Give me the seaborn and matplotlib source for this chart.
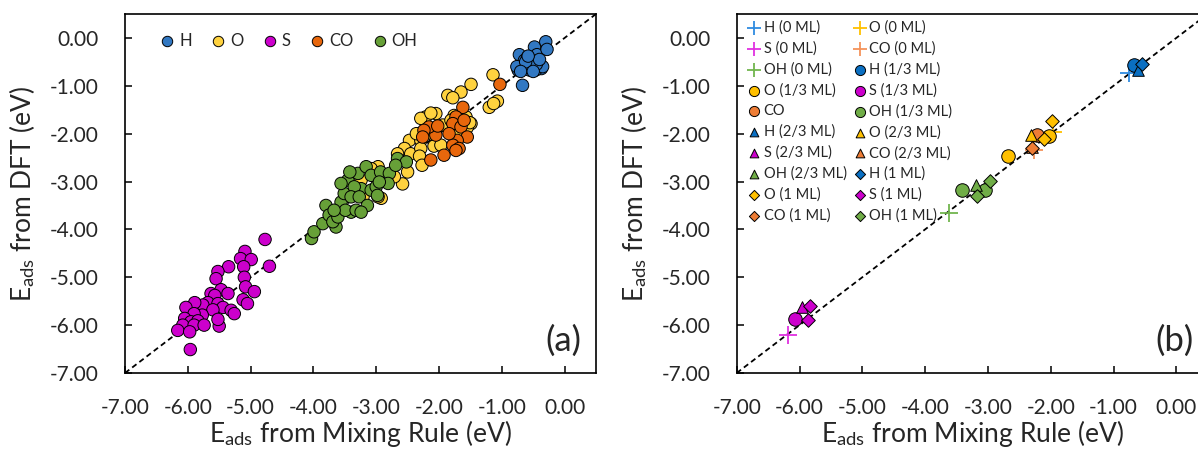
import numpy as np
import pandas as pd
import matplotlib
matplotlib.use("Agg")
import matplotlib.pyplot as plt
import seaborn as sns
from matplotlib.lines import Line2D
from matplotlib.ticker import FormatStrFormatter

# ---------------- Panel (a) data ----------------
h_x = [-0.72, -0.48, -0.44, -0.30, -0.28, -0.51, -0.62, -0.43, -0.69, -0.56, -0.37, -0.74,
       -0.67, -0.64, -0.46, -0.35, -0.76, -0.59, -0.55, -0.45, -0.62, -0.40, -0.70, -0.50, -0.58]
h_y = [-0.35, -0.19, -0.35, -0.08, -0.24, -0.48, -0.57, -0.57, -0.64, -0.67, -0.64, -0.67,
       -0.99, -0.47, -0.67, -0.60, -0.60, -0.40, -0.62, -0.55, -0.50, -0.45, -0.70, -0.70, -0.38]

o_x = [-1.14, -1.20, -1.07, -1.13, -1.49, -1.65, -1.86, -1.78, -2.21, -2.05, -2.29, -1.94,
       -1.76, -1.57, -1.49, -1.55, -2.13, -2.08, -2.47, -2.29, -2.08, -1.97, -1.73, -1.71,
       -2.55, -2.45, -2.29, -2.31, -2.27, -2.66, -2.50, -2.58, -2.71, -2.97, -2.92, -2.97,
       -3.08, -3.21, -3.24, -2.13, -1.51, -2.36, -1.81]
o_y = [-0.77, -1.45, -1.32, -1.37, -0.97, -1.13, -1.20, -1.25, -1.65, -1.58, -1.68, -1.82,
       -1.62, -1.65, -1.79, -1.87, -1.93, -2.03, -2.14, -2.14, -2.26, -2.24, -2.00, -2.03,
       -2.31, -2.42, -2.31, -2.47, -2.66, -2.42, -2.80, -3.05, -2.90, -2.69, -3.35, -3.32,
       -2.73, -3.32, -2.97, -1.57, -1.77, -2.00, -1.72]

s_x = [-4.77, -4.70, -5.09, -5.16, -4.99, -5.35, -5.52, -5.55, -5.11, -5.10, -5.08, -4.94,
       -5.12, -5.05, -5.63, -5.47, -5.36, -5.57, -5.68, -5.76, -5.89, -6.03, -5.52, -5.44,
       -5.31, -5.26, -5.60, -5.77, -5.90, -6.05, -5.95, -5.84, -6.08, -5.90, -5.74, -5.50,
       -5.52, -6.16, -5.97, -5.96]
s_y = [-4.21, -4.77, -4.46, -4.61, -4.63, -4.78, -4.88, -5.03, -4.78, -5.00, -5.20, -5.30,
       -5.47, -5.55, -5.34, -5.26, -5.34, -5.38, -5.53, -5.58, -5.53, -5.63, -5.55, -5.63,
       -5.69, -5.76, -5.68, -5.79, -5.76, -5.86, -5.93, -5.91, -6.00, -6.00, -6.00, -6.02,
       -5.88, -6.11, -6.14, -6.51]

co_x = [-1.03, -1.62, -1.73, -1.78, -1.65, -1.55, -1.71, -1.78, -1.68, -1.73, -1.92, -2.13,
        -2.05, -2.16, -2.24, -2.02, -1.84, -2.26, -1.60]
co_y = [-0.97, -1.45, -1.65, -1.79, -1.86, -2.07, -2.14, -2.24, -2.31, -2.35, -2.45, -2.55,
        -2.03, -1.86, -1.93, -1.84, -2.00, -2.07, -1.72]

oh_x = [-4.03, -3.99, -3.85, -3.80, -3.75, -3.64, -3.69, -3.61, -3.56, -3.51, -3.45, -3.40,
        -3.49, -3.32, -3.29, -3.16, -3.24, -3.35, -3.40, -3.27, -3.08, -3.00, -3.08, -2.93,
        -2.79, -2.81, -2.95, -3.14, -3.24, -2.66, -2.52, -2.69, -3.42, -3.56, -3.67, -2.98]
oh_y = [-4.19, -4.05, -3.88, -3.50, -3.70, -3.95, -3.84, -3.74, -3.43, -3.25, -2.97, -3.64,
        -3.60, -3.60, -2.83, -2.69, -3.15, -3.11, -3.32, -3.32, -3.18, -3.11, -2.87, -2.80,
        -2.83, -3.04, -3.01, -3.50, -3.64, -2.52, -2.59, -2.66, -2.80, -3.04, -3.60, -3.29]

adsorbates = ["H", "O", "S", "CO", "OH"]
colors_a = ["#3278C2", "#FFD23F", "#CC00CC", "#E8670C", "#67A038"]

# ---------------- Panel (b) data ----------------
b_labels = ["H (0 ML)", "O (0 ML)", "S (0 ML)", "CO (0 ML)", "OH (0 ML)",
            "H (1/3 ML)", "O (1/3 ML)", "S (1/3 ML)", "CO", "OH (1/3 ML)",
            "H (2/3 ML)", "O (2/3 ML)", "S (2/3 ML)", "CO (2/3 ML)", "OH (2/3 ML)",
            "H (1 ML)", "O (1 ML)", "S (1 ML)", "CO (1 ML)", "OH (1 ML)"]
b_x = [[-0.75], [-1.97], [-6.19], [-2.26], [-3.62],
       [-0.67], [-2.68, -2.03], [-6.07], [-2.22], [-3.41, -3.04],
       [-0.61], [-2.32], [-5.96], [-2.29], [-3.19],
       [-0.55], [-1.98, -2.10], [-5.83, -5.87], [-2.29], [-2.97, -3.18]]
b_y = [[-0.74], [-1.96], [-6.21], [-2.35], [-3.66],
       [-0.57], [-2.47, -2.05], [-5.88], [-2.02], [-3.17, -3.17],
       [-0.66], [-2.03], [-5.63], [-2.28], [-3.08],
       [-0.54], [-1.74, -2.12], [-5.60, -5.90], [-2.29], [-2.99, -3.30]]
plus_colors = ["#2F8BE0", "#FFC000", "#E030E0", "#F4935A", "#72B54E"]
fill_colors = ["#0A6FC2", "#FFC000", "#CC00CC", "#EE7D36", "#70AD47"]
coverage_markers = ["+", "o", "^", "D"]

ticks = [-7, -6, -5, -4, -3, -2, -1, 0]

# ---------------- Style ----------------
sns.set_theme(style="white")
plt.rcParams["font.family"] = ["Lato", "DejaVu Sans"]
plt.rcParams["mathtext.fontset"] = "custom"
plt.rcParams["mathtext.rm"] = "Lato"
plt.rcParams["mathtext.it"] = "Lato:italic"
plt.rcParams["mathtext.bf"] = "Lato:bold"
plt.rcParams["axes.unicode_minus"] = False

fig = plt.figure(figsize=(11.98, 4.5), dpi=100)
W, H = 1198, 450
axa = fig.add_axes([125 / W, 1 - 373 / H, 471 / W, 359 / H])
axb = fig.add_axes([736.7 / W, 1 - 373 / H, 471 / W, 359 / H])

# Panel a scatter
rows = []
for name, xs, ys in zip(adsorbates, [h_x, o_x, s_x, co_x, oh_x], [h_y, o_y, s_y, co_y, oh_y]):
    for xv, yv in zip(xs, ys):
        rows.append((name, xv, yv))
dfa = pd.DataFrame(rows, columns=["ads", "x", "y"])
sns.scatterplot(data=dfa, x="x", y="y", hue="ads", hue_order=adsorbates,
                palette=dict(zip(adsorbates, colors_a)), s=80, edgecolor="black",
                linewidth=0.7, ax=axa, legend=False, zorder=3)

# Panel b scatter
for i, (lab, xs, ys) in enumerate(zip(b_labels, b_x, b_y)):
    ads_i = i % 5
    cov_i = i // 5
    mk = coverage_markers[cov_i]
    if mk == "+":
        sns.scatterplot(x=xs, y=ys, marker="+", color=plus_colors[ads_i], s=160,
                        linewidth=1.3, ax=axb, label=lab, zorder=3)
    else:
        size = {"o": 95, "^": 70, "D": 48}[mk]
        sns.scatterplot(x=xs, y=ys, marker=mk, color=fill_colors[ads_i], s=size,
                        edgecolor="black", linewidth=0.7, ax=axb, label=lab, zorder=3)

for ax in (axa, axb):
    ax.axline((0, 0), slope=1, color="black", lw=1.3, ls=(0, (3, 2)), zorder=2)
    ax.set_xlim(-7, 0.5)
    ax.set_ylim(-7, 0.5)
    ax.set_xticks(ticks)
    ax.set_yticks(ticks)
    ax.xaxis.set_major_formatter(FormatStrFormatter("%.2f"))
    ax.yaxis.set_major_formatter(FormatStrFormatter("%.2f"))
    ax.tick_params(direction="in", length=5, width=1.1, color="black",
                   labelsize=15, bottom=True, left=True, top=False, right=False)
    ax.tick_params(axis="y", pad=19)
    ax.tick_params(axis="x", pad=18)
    for sp in ax.spines.values():
        sp.set_color("black")
        sp.set_linewidth(1.2)
    ax.set_xlabel(r"E$_\mathregular{ads}$ from Mixing Rule (eV)", fontsize=19, labelpad=0)
    ax.set_ylabel(r"E$_\mathregular{ads}$ from DFT (eV)", fontsize=19, labelpad=9)
    ax.grid(False)

axa.text(0.97, 0.045, "(a)", transform=axa.transAxes, ha="right", va="bottom", fontsize=25)
axb.text(0.97, 0.045, "(b)", transform=axb.transAxes, ha="right", va="bottom", fontsize=25)

# Legend a
handles_a = [Line2D([], [], marker="o", ls="none", markersize=7.5, markerfacecolor=c,
                    markeredgecolor="black", markeredgewidth=0.7, label=n)
             for n, c in zip(adsorbates, colors_a)]
axa.legend(handles=handles_a, ncol=5, loc="upper left", bbox_to_anchor=(0.078, 0.946),
           frameon=False, fontsize=12, handlelength=0.65, handletextpad=0.4,
           columnspacing=1.25, borderpad=0, borderaxespad=0)

# Legend b (row-major order -> column-major)
hb, lb = axb.get_legend_handles_labels()
order = list(range(0, 20, 2)) + list(range(1, 20, 2))
axb.legend([hb[i] for i in order], [lb[i] for i in order], ncol=2, loc="upper left",
           bbox_to_anchor=(0.028, 0.982), frameon=False, fontsize=10.5, markerscale=0.75,
           handlelength=0.6, handletextpad=0.35, columnspacing=0.6, labelspacing=0.45,
           borderpad=0, borderaxespad=0)

fig.savefig("out.png", dpi=100)
